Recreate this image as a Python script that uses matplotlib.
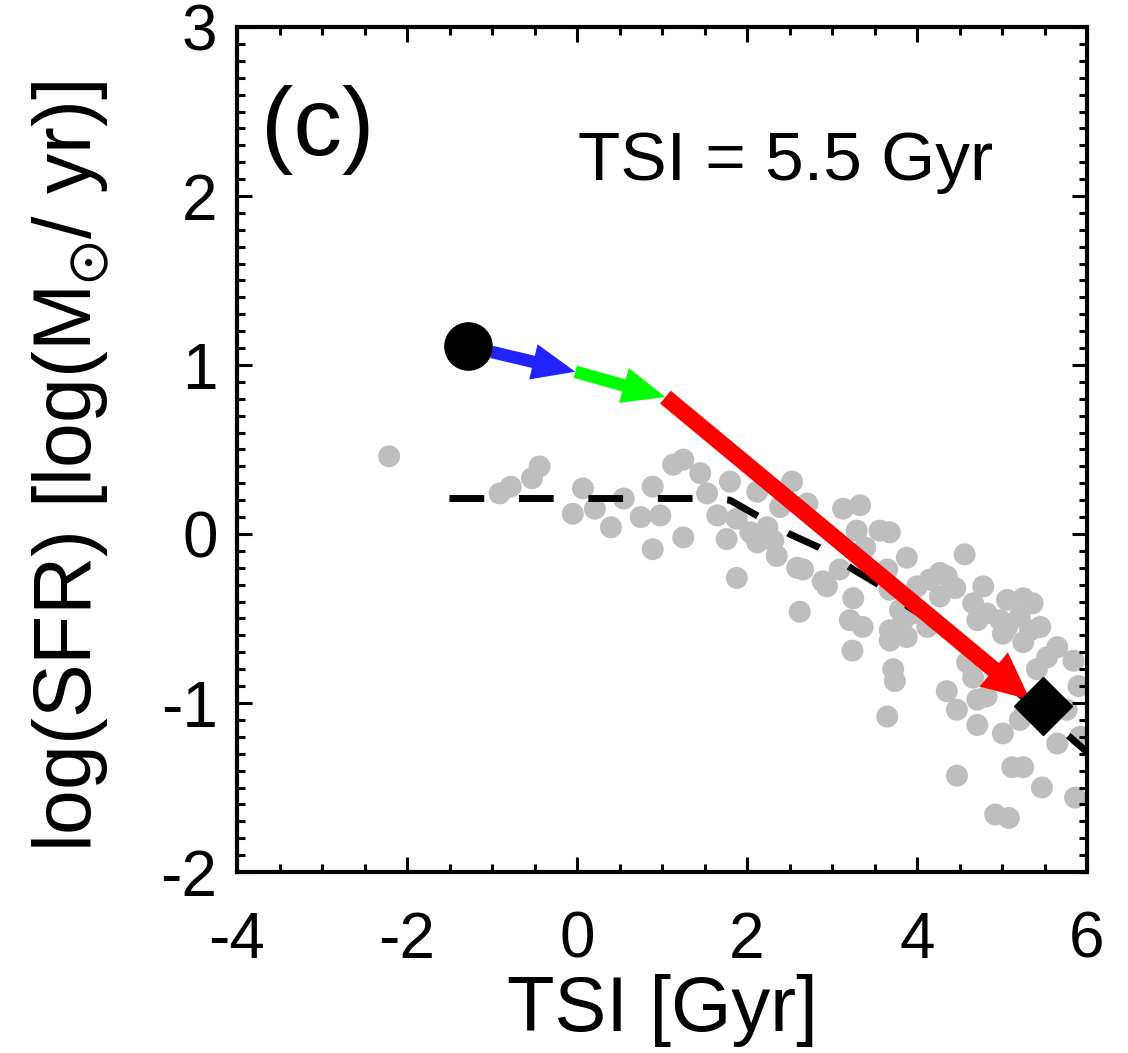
import matplotlib.pyplot as plt
import numpy as np

plt.rcParams['font.family'] = ['Liberation Sans', 'DejaVu Sans']
plt.rcParams['mathtext.fontset'] = 'custom'
plt.rcParams['mathtext.rm'] = 'Liberation Sans'
plt.rcParams['mathtext.fallback'] = 'stixsans'
plt.rcParams['axes.unicode_minus'] = False

# grey sample points (TSI [Gyr], log SFR)
tsi = [-2.21, -0.91, -0.78, -0.53, -0.44, -0.05, 0.07, 0.21, 0.40, 0.55,
       0.75, 0.89, 0.98, 0.89, 1.13, 1.25, 1.25, 1.45, 1.53, 1.65,
       1.80, 1.76, 1.88, 1.88, 2.12, 2.04, 2.12, 2.24, 2.35, 2.39,
       2.53, 2.59, 2.71, 2.66, 2.62, 2.89, 3.13, 3.33, 3.29, 3.56,
       3.68, 3.39, 3.88, 3.65, 3.09, 2.94, 3.25, 3.21, 3.36, 3.68,
       3.80, 3.68, 4.00, 4.15, 4.27, 4.35, 4.56, 4.45, 4.78, 4.66,
       4.27, 5.06, 5.25, 5.36, 4.71, 4.98, 5.01, 5.21, 5.33, 5.45,
       5.25, 5.65, 5.53, 4.59, 5.84, 4.66, 5.41, 3.95, 4.12, 3.88,
       3.84, 3.68, 3.24, 3.72, 3.74, 3.65, 4.82, 5.06, 4.35, 4.71,
       4.47, 4.82, 4.71, 5.01, 5.21, 5.65, 5.76, 4.47, 5.12, 5.25,
       5.47, 5.86, 4.92, 5.08, 2.31, 5.90, 5.92]
sfr = [0.46, 0.24, 0.28, 0.33, 0.40, 0.12, 0.27, 0.15, 0.04, 0.21,
       0.10, 0.28, 0.11, -0.09, 0.41, 0.44, -0.02, 0.36, 0.24, 0.11,
       0.31, -0.03, -0.26, 0.09, 0.25, 0.01, -0.05, 0.04, -0.13, 0.16,
       0.31, -0.20, 0.18, -0.21, -0.46, -0.28, 0.15, 0.17, 0.02, 0.02,
       0.01, -0.08, -0.14, -0.21, -0.21, -0.31, -0.38, -0.51, -0.55, -0.33,
       -0.45, -0.57, -0.31, -0.27, -0.23, -0.25, -0.12, -0.32, -0.31, -0.41,
       -0.37, -0.39, -0.38, -0.41, -0.51, -0.51, -0.59, -0.49, -0.57, -0.55,
       -0.64, -0.67, -0.73, -0.76, -0.75, -0.85, -0.80, -0.47, -0.55, -0.61,
       -0.51, -0.63, -0.69, -0.80, -0.87, -1.08, -0.47, -0.55, -0.93, -0.98,
       -1.04, -0.96, -1.13, -1.18, -1.10, -1.24, -1.04, -1.43, -1.38, -1.38,
       -1.50, -1.56, -1.66, -1.68, -0.04, -0.90, -1.20]

# dashed model track
model_t = [-1.5, 1.6, 1.8, 2.15, 2.5, 2.85, 3.25, 3.55, 3.9, 4.15, 4.6, 5.0, 5.5, 6.0]
model_sfr = [0.21, 0.21, 0.20, 0.10, 0.0, -0.08, -0.21, -0.30, -0.43, -0.51, -0.69, -0.86, -1.07, -1.29]

# evolution steps: start, blue end, green end, red end
path_t = [-1.28, -0.02, 1.04, 5.33]
path_sfr = [1.11, 0.96, 0.81, -0.98]
path_colors = ['#2222ff', '#00ff00', '#ff0000']
start_pt = (-1.28, 1.11)
end_pt = (5.48, -1.02)

fig = plt.figure(figsize=(11.28, 10.53), dpi=100)
ax = fig.add_axes([237/1128, 181/1053, 850/1128, 845/1053])

ax.scatter(tsi, sfr, s=250, color='#bebebe', edgecolors='none', zorder=1)
ax.plot(model_t, model_sfr, color='black', lw=5, ls=(0, (5, 5)), zorder=2)

# first arrow starts at the edge of the circle
dx = path_t[1] - path_t[0]
dy = path_sfr[1] - path_sfr[0]
starts = [(path_t[0] + 0.22 * dx, path_sfr[0] + 0.22 * dy),
          (path_t[1], path_sfr[1]), (path_t[2], path_sfr[2])]
styles = ['simple,head_length=1.55,head_width=1.3,tail_width=0.45',
          'simple,head_length=1.55,head_width=1.3,tail_width=0.45',
          'simple,head_length=1.7,head_width=1.6,tail_width=0.6']
for i in range(3):
    ax.annotate('', xy=(path_t[i+1], path_sfr[i+1]), xytext=starts[i],
                arrowprops=dict(arrowstyle=styles[i], color=path_colors[i],
                                shrinkA=0, shrinkB=0, mutation_scale=20, lw=0),
                zorder=3)

ax.plot(*start_pt, 'o', color='black', ms=34, zorder=4)
ax.plot(*end_pt, 'D', color='black', ms=30, zorder=4)

ax.text(-3.72, 2.39, '(c)', fontsize=70, va='center', ha='left')
ax.text(2.45, 2.2, 'TSI = 5.5 Gyr', fontsize=50, va='center', ha='center')

ax.set_xlim(-4, 6)
ax.set_ylim(-2, 3)
ax.set_xticks([-4, -2, 0, 2, 4, 6])
ax.set_yticks([-2, -1, 0, 1, 2, 3])
ax.set_xticks(np.arange(-4, 6.01, 0.5), minor=True)
ax.set_yticks(np.arange(-2, 3.01, 0.1), minor=True)
ax.tick_params(which='both', direction='in', top=True, right=True, width=2.2, labelsize=46)
ax.tick_params(which='major', length=11)
ax.tick_params(which='minor', length=6)
ax.tick_params(axis='x', pad=28)
ax.tick_params(axis='y', pad=14)
for sp in ax.spines.values():
    sp.set_linewidth(3)

ax.set_xlabel('TSI [Gyr]', fontsize=56, labelpad=2)
ax.set_ylabel('log(SFR) [log(M$_{⊙}$/ yr)]', fontsize=58, labelpad=36)
ax.yaxis.label.set_y(0.48)

fig.savefig('out.png', dpi=100)
